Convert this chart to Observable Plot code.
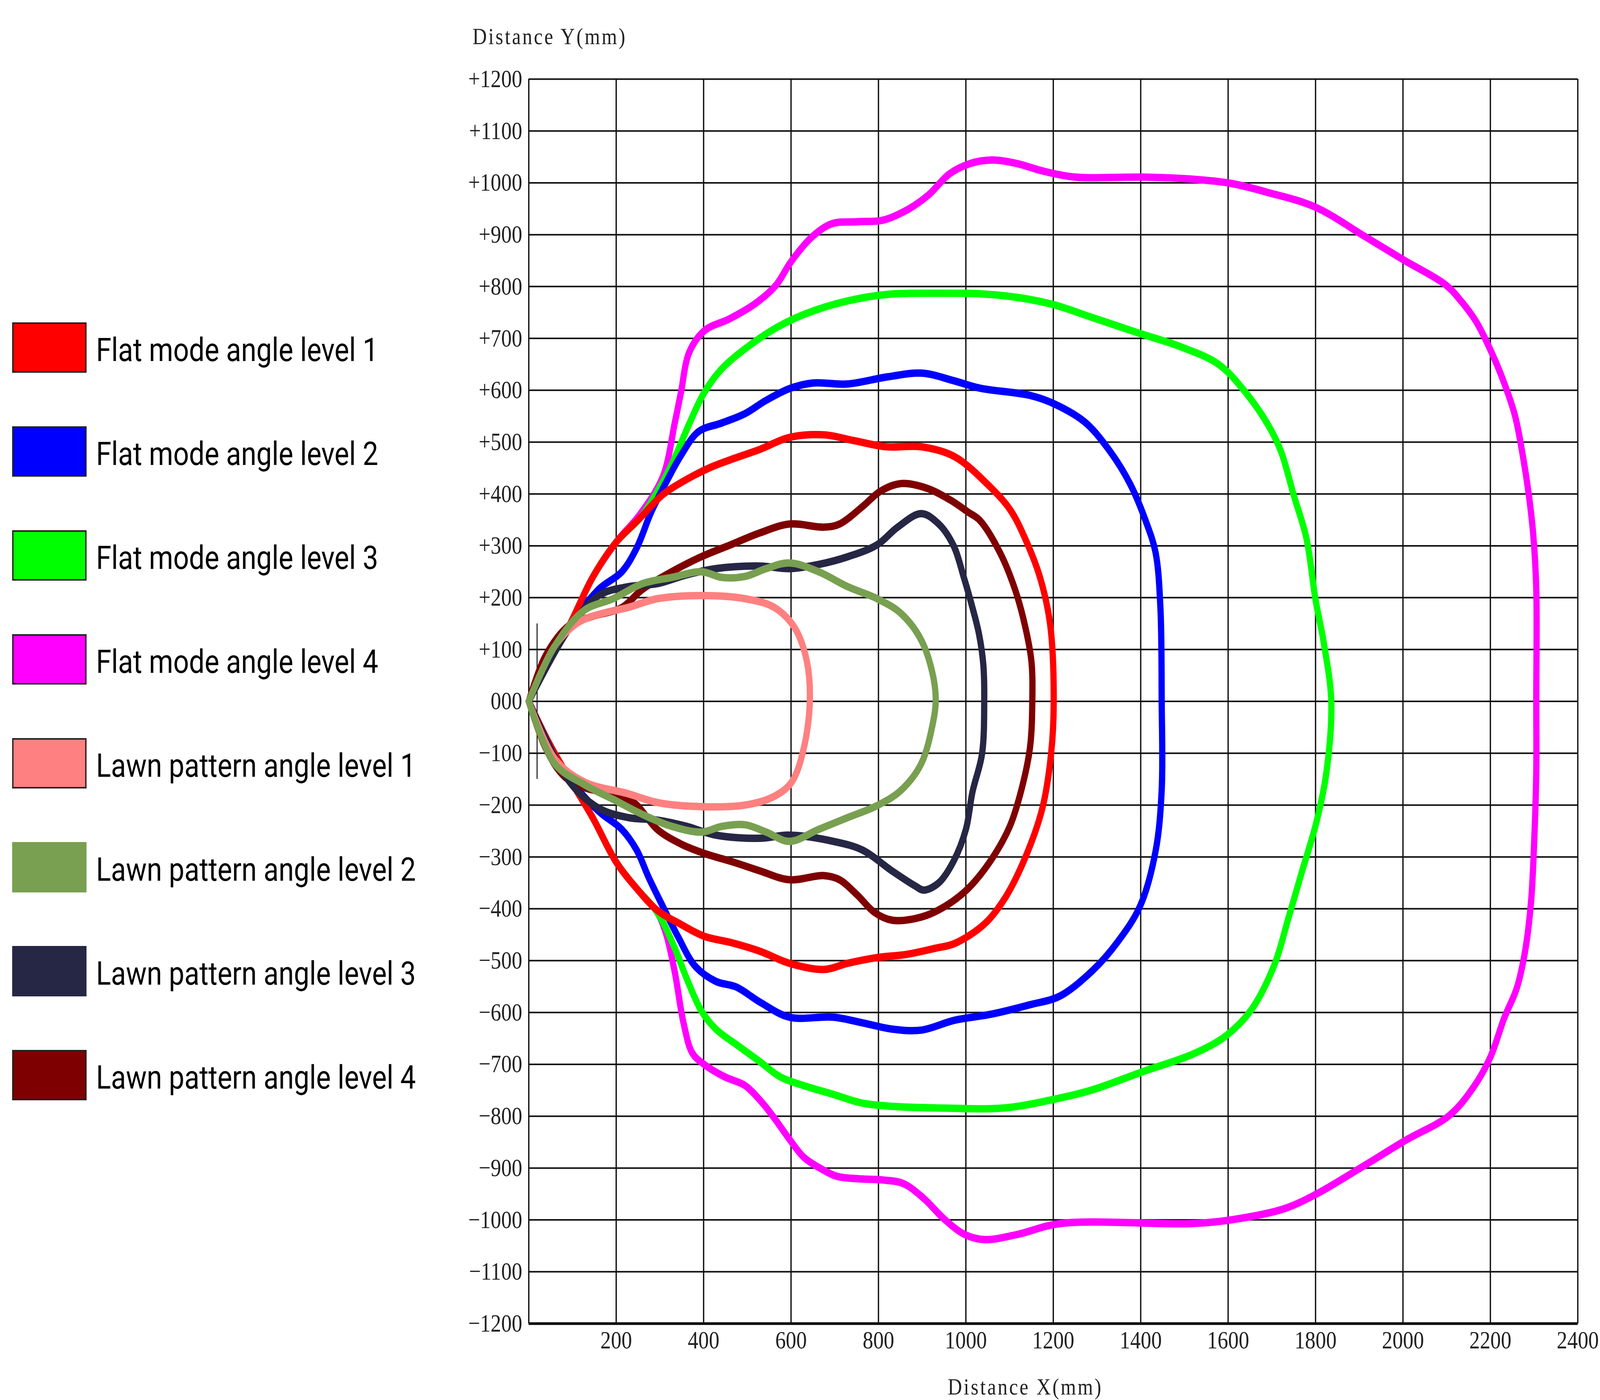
<!DOCTYPE html>
<html>
<head>
<meta charset="utf-8">
<script src="https://cdn.jsdelivr.net/npm/d3@7"></script>
<script src="https://cdn.jsdelivr.net/npm/@observablehq/plot@0.6"></script>
<style>
  html, body { margin: 0; padding: 0; background: #fff; overflow: hidden; }
  #outer { position: relative; overflow: hidden; }
  #wrap { position: absolute; left: 0; top: 0; width: 4864px; height: 3583px; transform-origin: 0 0; }
  #legend { position: absolute; left: 37px; top: 825px; font-family: Roboto, "Noto Sans", sans-serif; }
  .item { position: absolute; left: 0; display: flex; align-items: center; white-space: nowrap; }
  .sw { width: 226px; height: 129px; box-sizing: border-box; }
  .lab { margin-left: 29px; font-size: 84px; color: #000; line-height: 1; position: relative; top: 6px; }
</style>
</head>
<body>
<div id="outer">
  <div id="wrap">
    <div id="chart"></div>
    <div id="legend"></div>
  </div>
</div>
<script>
// ---- Data ----
const seriesNames = [
  "Flat mode angle level 1", "Flat mode angle level 2", "Flat mode angle level 3", "Flat mode angle level 4",
  "Lawn pattern angle level 1", "Lawn pattern angle level 2", "Lawn pattern angle level 3", "Lawn pattern angle level 4"
];
const seriesColors = ["#ff0000", "#0000ff", "#00ff00", "#ff00ff", "#ff8080", "#78a050", "#262645", "#7f0000"];
const swatchBorders = [true, true, true, true, true, false, false, true];

const xTicks = [200, 400, 600, 800, 1000, 1200, 1400, 1600, 1800, 2000, 2200, 2400];
const xGrid = [0, 200, 400, 600, 800, 1000, 1200, 1400, 1600, 1800, 2000, 2200, 2400];
const yTicks = [1200, 1100, 1000, 900, 800, 700, 600, 500, 400, 300, 200, 100, 0,
  -100, -200, -300, -400, -500, -600, -700, -800, -900, -1000, -1100, -1200];
const originMark = [{x: 19, y1: -150, y2: 150}];

// Upper half (y >= 0) and lower half (y <= 0) of each contour, in mm
const flat1Upper = [[0,0],[46,78],[93,147],[146,239],[200,307],[254,353],[307,399],[361,428],[415,451],[468,468],[529,486],[596,509],[676,514],[743,503],[817,491],[898,491],[974,472],[1049,419],[1101,370],[1135,315],[1170,238],[1193,147],[1201,0]];
const flat1Lower = [[0,0],[46,-80],[93,-149],[146,-224],[200,-310],[247,-361],[294,-403],[348,-430],[401,-453],[462,-465],[529,-482],[596,-505],[676,-517],[730,-505],[797,-494],[864,-488],[931,-476],[974,-467],[1043,-429],[1089,-380],[1135,-303],[1175,-206],[1195,-101],[1201,0]];

const flat2Upper = [[0,0],[46,78],[93,145],[160,216],[213,250],[247,296],[280,365],[314,422],[348,474],[388,520],[442,537],[495,555],[542,580],[596,603],[650,614],[728,612],[822,626],[900,633],[974,618],[1032,604],[1147,590],[1204,573],[1273,538],[1330,482],[1376,419],[1411,349],[1434,287],[1445,182],[1448,0]];
const flat2Lower = [[0,0],[46,-80],[93,-149],[160,-212],[213,-247],[247,-287],[274,-339],[307,-396],[341,-453],[381,-511],[428,-540],[475,-551],[529,-580],[596,-609],[697,-609],[764,-620],[831,-632],[898,-634],[974,-615],[1060,-603],[1147,-585],[1216,-568],[1290,-519],[1348,-463],[1399,-394],[1434,-289],[1448,-171],[1451,0]];

const flat3Upper = [[0,0],[46,78],[93,147],[146,239],[200,307],[254,353],[287,394],[327,457],[368,537],[401,595],[440,640],[495,680],[565,720],[635,748],[728,772],[822,785],[938,787],[1032,786],[1118,779],[1201,765],[1290,740],[1400,709],[1491,684],[1578,650],[1635,601],[1693,531],[1721,482],[1750,398],[1779,315],[1800,196],[1819,112],[1836,0]];
const flat3Lower = [[0,0],[46,-80],[93,-149],[146,-224],[200,-310],[247,-361],[294,-407],[334,-476],[361,-534],[395,-597],[428,-632],[482,-666],[529,-695],[575,-724],[629,-741],[697,-758],[764,-775],[831,-781],[931,-784],[1089,-784],[1204,-767],[1290,-749],[1405,-714],[1520,-680],[1595,-645],[1652,-596],[1704,-512],[1739,-415],[1768,-331],[1802,-233],[1825,-136],[1839,0]];

const flat4Upper = [[0,0],[46,78],[93,147],[146,239],[200,307],[254,360],[307,434],[334,537],[348,595],[367,673],[402,715],[460,738],[518,767],[565,802],[600,848],[647,895],[693,921],[752,925],[810,928],[868,949],[915,977],[962,1017],[1009,1037],[1060,1044],[1118,1037],[1175,1023],[1250,1011],[1405,1011],[1520,1007],[1606,999],[1693,981],[1800,953],[1912,897],[2000,852],[2098,803],[2130,775],[2167,733],[2200,678],[2228,622],[2256,552],[2274,475],[2288,398],[2298,322],[2305,217],[2305,0]];
const flat4Lower = [[0,0],[46,-80],[93,-149],[146,-224],[200,-310],[247,-361],[294,-407],[314,-448],[334,-522],[354,-620],[374,-678],[401,-700],[448,-724],[495,-741],[535,-775],[562,-804],[596,-844],[629,-879],[670,-902],[705,-916],[760,-921],[810,-923],[857,-930],[903,-958],[950,-998],[997,-1028],[1043,-1038],[1118,-1028],[1216,-1007],[1520,-1007],[1606,-1000],[1726,-979],[1800,-951],[1912,-895],[2005,-847],[2107,-798],[2163,-742],[2200,-686],[2232,-610],[2260,-554],[2279,-484],[2293,-387],[2300,-275],[2305,-136],[2302,0]];

const lawn1Upper = [[0,0],[59,106],[113,152],[170,170],[227,181],[294,198],[395,204],[495,198],[562,181],[609,141],[636,78],[643,0]];
const lawn1Lower = [[0,0],[59,-110],[126,-155],[227,-178],[294,-195],[395,-203],[495,-200],[562,-183],[602,-155],[629,-91],[639,0]];

const lawn2Upper = [[0,0],[59,106],[126,175],[193,198],[260,227],[327,239],[395,250],[442,239],[495,241],[543,256],[596,267],[663,250],[730,221],[797,198],[851,170],[898,118],[925,49],[931,0]];
const lawn2Lower = [[0,0],[59,-120],[126,-160],[193,-189],[260,-218],[327,-241],[395,-252],[442,-241],[495,-238],[543,-252],[596,-270],[663,-247],[730,-224],[797,-201],[851,-172],[898,-120],[925,-40],[931,0]];

const lawn3Upper = [[0,0],[93,141],[160,204],[227,221],[294,227],[361,244],[428,256],[529,261],[596,256],[663,264],[730,279],[797,302],[844,336],[898,362],[938,342],[972,300],[995,240],[1015,181],[1030,130],[1040,70],[1042,0]];
const lawn3Lower = [[0,0],[93,-155],[160,-206],[227,-224],[294,-229],[361,-241],[428,-258],[529,-264],[596,-258],[697,-270],[764,-287],[831,-327],[884,-356],[904,-364],[938,-350],[972,-308],[1000,-247],[1015,-175],[1037,-101],[1042,0]];

const lawn4Upper = [[0,0],[39,89],[93,147],[146,164],[213,181],[260,216],[327,250],[395,279],[462,302],[529,325],[596,342],[676,336],[711,342],[764,376],[804,405],[851,420],[911,411],[965,388],[1005,365],[1032,349],[1078,287],[1112,217],[1135,147],[1150,77],[1152,0]];
const lawn4Lower = [[0,0],[39,-91],[79,-143],[126,-166],[186,-178],[240,-195],[294,-247],[348,-275],[401,-293],[468,-310],[529,-327],[596,-344],[676,-336],[711,-344],[751,-373],[791,-407],[831,-422],[898,-416],[951,-396],[1005,-361],[1060,-303],[1101,-240],[1129,-164],[1147,-87],[1152,0]];

const halves = [
  [flat1Upper, flat1Lower], [flat2Upper, flat2Lower], [flat3Upper, flat3Lower], [flat4Upper, flat4Lower],
  [lawn1Upper, lawn1Lower], [lawn2Upper, lawn2Lower], [lawn3Upper, lawn3Lower], [lawn4Upper, lawn4Lower]
];
// drawing order (bottom to top)
const drawOrder = [3, 2, 1, 0, 7, 6, 4, 5];

// ---- Build table ----
const rows = [];
for (const i of drawOrder) {
  const [up, low] = halves[i];
  up.forEach(([x, y]) => rows.push({series: seriesNames[i], x, y}));
  low.slice(0, -1).reverse().forEach(([x, y]) => rows.push({series: seriesNames[i], x, y}));
}

const fmtY = d => d === 0 ? "000" : (d > 0 ? "+" + d : "\u2212" + Math.abs(d));
const fmtX = d => String(d);

const chart = Plot.plot({
  width: 4864,
  height: 3583,
  marginLeft: 1607,
  marginRight: 68,
  marginTop: 202,
  marginBottom: 196,
  style: {fontFamily: "'Liberation Serif', serif", fontSize: "64px", background: "#fff", color: "#222", overflow: "visible", maxWidth: "none"},
  x: {domain: [0, 2400]},
  y: {domain: [-1200, 1200]},
  color: {domain: seriesNames, range: seriesColors},
  marks: [
    Plot.ruleX(xGrid, {stroke: "#111", strokeWidth: 4}),
    Plot.ruleY(yTicks, {stroke: "#111", strokeWidth: 4}),
    Plot.ruleY([-1200], {stroke: "#111", strokeWidth: 7}),
    Plot.ruleX(originMark, {x: "x", y1: "y1", y2: "y2", stroke: "#111", strokeWidth: 3}),
    Plot.line(rows, {x: "x", y: "y", z: "series", stroke: "series", strokeWidth: 19, curve: "catmull-rom", strokeLinejoin: "round", strokeLinecap: "round"}),
    Plot.axisX({ticks: xTicks, tickFormat: fmtX, tickSize: 0, tickPadding: 18, label: null, fontSize: 64}),
    Plot.axisY({ticks: yTicks, tickFormat: fmtY, tickSize: 0, tickPadding: 20, label: null, fontSize: 64}),
    Plot.text(["Distance Y(mm)"], {text: d => d, frameAnchor: "top-left", textAnchor: "start", lineAnchor: "middle", dx: -171, dy: -109, fontSize: 60, fill: "#222"}),
    Plot.text(["Distance X(mm)"], {text: d => d, frameAnchor: "bottom", textAnchor: "middle", lineAnchor: "middle", dx: -85, dy: 162, fontSize: 60, fill: "#222"})
  ]
});
document.getElementById("chart").appendChild(chart);
chart.querySelectorAll("text").forEach(t => {
  if (t.textContent.startsWith("Distance")) t.setAttribute("letter-spacing", "5");
});

// ---- Legend ----
const legend = document.getElementById("legend");
seriesNames.forEach((name, i) => {
  const item = document.createElement("div");
  item.className = "item";
  item.style.top = (i * 266) + "px";
  const sw = document.createElement("div");
  sw.className = "sw";
  sw.style.background = seriesColors[i];
  if (swatchBorders[i]) sw.style.border = "4px solid #222";
  const lab = document.createElement("span");
  lab.className = "lab";
  lab.textContent = name;
  item.appendChild(sw);
  item.appendChild(lab);
  legend.appendChild(item);
});

// The browser window may be narrower than the 4864x3583 design (it is capped),
// so map the design onto the whole viewport.
function fit() {
  const W = window.innerWidth, H = window.innerHeight;
  const kx = W / 4864, ky = H / 3583;
  document.getElementById("wrap").style.transform = "scale(" + kx + "," + ky + ")";
  const outer = document.getElementById("outer");
  outer.style.width = W + "px";
  outer.style.height = H + "px";
}
fit();
window.addEventListener("resize", fit);
</script>
</body>
</html>
